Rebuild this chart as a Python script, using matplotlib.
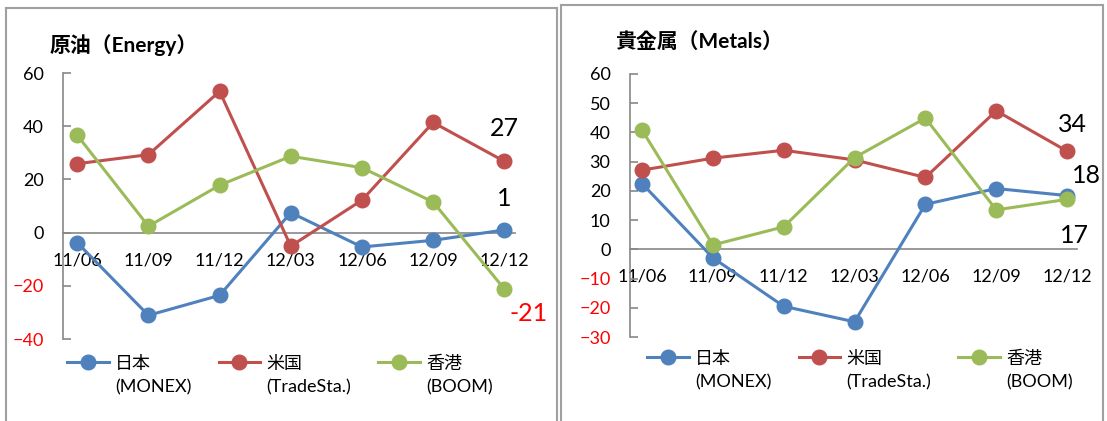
import numpy as np
import matplotlib
matplotlib.use("Agg")
import matplotlib.pyplot as plt
import matplotlib.transforms as mtransforms
from matplotlib.patches import Rectangle
from matplotlib.legend_handler import HandlerLine2D
from matplotlib.lines import Line2D

plt.rcParams['font.family'] = ['Lato', 'Noto Sans CJK JP']

# データ
dates = ["11/06", "11/09", "11/12", "12/03", "12/06", "12/09", "12/12"]
series_names = ["日本\n(MONEX)", "米国\n(TradeSta.)", "香港\n(BOOM)"]
colors = ["#4F81BD", "#C0504D", "#9BBB59"]

energy_japan = [-3.8, -31.1, -23.6, 7.5, -5.4, -2.9, 1.0]
energy_us = [25.9, 29.3, 53.1, -5.1, 12.2, 41.4, 26.8]
energy_hk = [36.6, 2.4, 17.8, 28.7, 24.4, 11.5, -21.2]

metals_japan = [22.5, -2.9, -19.5, -24.8, 15.4, 20.8, 18.4]
metals_us = [27.1, 31.2, 33.9, 30.6, 24.6, 47.4, 33.6]
metals_hk = [40.8, 1.5, 7.7, 31.4, 44.9, 13.5, 17.1]

W, H = 1107, 421


class HandlerTopLine(HandlerLine2D):
    # 凡例の線を1行目の高さに上げる
    def __init__(self, dy, **kw):
        super().__init__(**kw)
        self.dy = dy

    def create_artists(self, legend, orig_handle, xdescent, ydescent,
                       width, height, fontsize, trans):
        arts = super().create_artists(legend, orig_handle, xdescent, ydescent,
                                      width, height, fontsize, trans)
        t = mtransforms.Affine2D().translate(0, self.dy) + trans
        for a in arts:
            a.set_transform(t)
        return arts


def panel(rect, title, title_xy, data, ylim, yticks, xlim, label_offsets, leg_xy):
    ax = fig.add_axes(rect)
    ax.patch.set_alpha(0)
    x = np.arange(len(dates))
    lines = []
    for vals, c in zip(data, colors):
        ln, = ax.plot(x, vals, color=c, lw=2.2, marker="o", ms=10.5,
                      mec=c, mfc=c, zorder=3, clip_on=False)
        lines.append(ln)
    ax.set_ylim(*ylim)
    ax.set_xlim(*xlim)
    ax.set_yticks(yticks)
    ax.set_xticks(x)
    ax.set_xticklabels(dates)
    for s in ["top", "right"]:
        ax.spines[s].set_visible(False)
    ax.spines["bottom"].set_position(("data", 0))
    for s in ["left", "bottom"]:
        ax.spines[s].set_color("#878787")
        ax.spines[s].set_linewidth(1.2)
    ax.tick_params(axis="y", direction="in", length=6, width=1.2,
                   color="#878787", pad=14, labelsize=13)
    ax.tick_params(axis="x", length=0, pad=14, labelsize=13)
    for lab, v in zip(ax.get_yticklabels(), yticks):
        lab.set_color("red" if v < 0 else "black")
    # 最終値ラベル
    for vals, (dx, dy) in zip(data, label_offsets):
        v = vals[-1]
        ax.annotate(f"{round(v)}", (x[-1], v), xytext=(dx, dy),
                    textcoords="offset pixels", ha="center", va="center",
                    fontsize=18, color="red" if v < 0 else "black")
    fig.text(title_xy[0] / W, 1 - title_xy[1] / H, title, fontsize=15,
             fontweight="bold", va="center", ha="left",
             family=["Lato", "Noto Sans CJK JP"])
    leg = ax.legend(lines, series_names, ncol=3, frameon=False, loc="center",
                    bbox_to_anchor=(leg_xy[0] / W, 1 - leg_xy[1] / H),
                    bbox_transform=fig.transFigure, fontsize=13,
                    handlelength=2.3, handletextpad=0.35, columnspacing=1.5,
                    handler_map={Line2D: HandlerTopLine(dy=10)})
    for t in leg.get_texts():
        t.set_linespacing(1.55)
    return ax


fig = plt.figure(figsize=(W / 100, H / 100), dpi=100)
fig.patch.set_facecolor("white")

# 枠
fig.add_artist(Rectangle((6 / W, -0.05), 551 / W, 1.05 - 8 / H, transform=fig.transFigure,
                         fill=False, edgecolor="#a0a0a0", lw=1.5))
fig.add_artist(Rectangle((561 / W, -0.05), 542 / W, 1.05 - 5 / H, transform=fig.transFigure,
                         fill=False, edgecolor="#a0a0a0", lw=1.5))

panel([63 / W, 1 - 339 / H, 452 / W, 266 / H], "原油（Energy）", (50, 45),
      [energy_japan, energy_us, energy_hk], (-40, 60), [-40, -20, 0, 20, 40, 60],
      (-0.2, 6.15), [(0, 31), (0, 33), (24, -25)], (280, 376))

panel([630 / W, 1 - 337 / H, 447 / W, 263 / H], "貴金属（Metals）", (615, 42),
      [metals_japan, metals_us, metals_hk], (-30, 60), list(range(-30, 61, 10)),
      (-0.17, 6.14), [(19, 20), (5, 27), (7, -36)], (860, 371))

fig.savefig("out.png", dpi=100)
